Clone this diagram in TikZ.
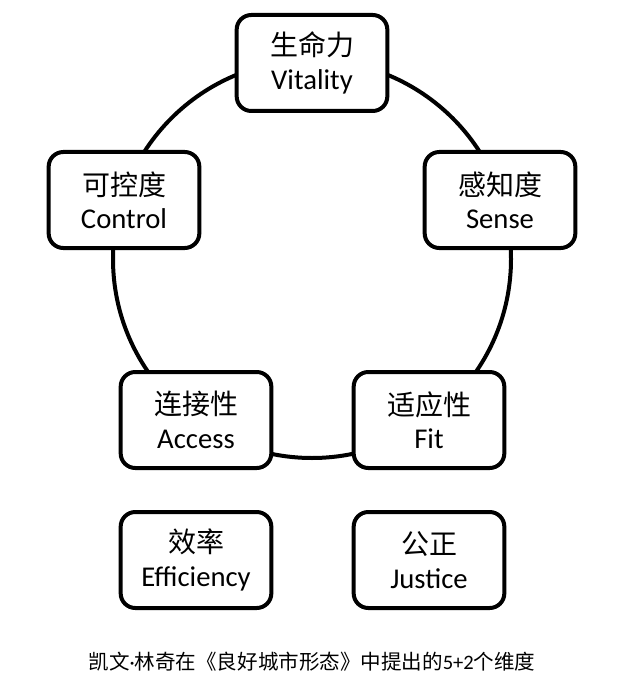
\documentclass[tikz,border=0pt]{standalone}
\usepackage{fontspec}
\setmainfont{Carlito}
\newfontfamily\cjk{Noto Sans CJK SC}
\tikzset{
  dimbox/.style={draw, line width=3pt, rounded corners=11pt, fill=white,
    minimum width=113pt, minimum height=72pt, align=center,
    font=\fontsize{21.5pt}{25pt}\selectfont},
}
\newcommand{\dimlabel}[2]{{\cjk\fontsize{21pt}{25pt}\selectfont #1}\\#2}
\begin{document}
\begin{tikzpicture}[x=0.75pt, y=-0.75pt]
        \useasboundingbox (0,0) rectangle (624,688);
        \coordinate (c) at (312, 259);
        \draw[line width=3pt] (c) circle (149.25pt);
        \node[dimbox] (vitality) at (312, 63) {\dimlabel{生命力}{Vitality}};
        \node[dimbox] (control) at (124, 200) {\dimlabel{可控度}{Control}};
        \node[dimbox] (sense) at (500, 200) {\dimlabel{感知度}{Sense}};
        \node[dimbox] (access) at (196, 420) {\dimlabel{连接性}{Access}};
        \node[dimbox] (fit) at (429, 420) {\dimlabel{适应性}{Fit}};
        \node[dimbox] (efficiency) at (196, 560) {\dimlabel{效率}{Efficiency}};
        \node[dimbox] (justice) at (429, 560) {\dimlabel{公正}{Justice}};
        \node[font=\cjk\fontsize{15.4pt}{18pt}\selectfont] (caption) at (312, 662)
          {凯文{\rmfamily ·}林奇在《良好城市形态》中提出的{\rmfamily 5+2}个维度};
        \end{tikzpicture}
\end{document}
